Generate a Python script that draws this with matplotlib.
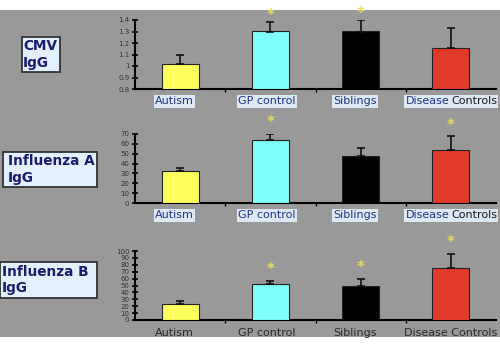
import matplotlib
matplotlib.use("Agg")
import matplotlib.pyplot as plt
from matplotlib.patches import Rectangle

categories = ["Autism", "GP control", "Siblings", "Disease Controls"]
bar_colors = ["#ffff5e", "#80ffff", "#000000", "#e23a2a"]

panel_titles = ["CMV\nIgG", "Influenza A\nIgG", "Influenza B\nIgG"]

cmv_means = [1.02, 1.30, 1.30, 1.155]
cmv_errs = [0.075, 0.08, 0.10, 0.175]
cmv_stars = [False, True, True, False]
cmv_ticks = [0.8, 0.9, 1.0, 1.1, 1.2, 1.3, 1.4]
cmv_ticklabels = ["0.8", "0.9", "1", "1.1", "1.2", "1.3", "1.4"]

fluA_means = [32, 63.5, 47.5, 53.5]
fluA_errs = [4, 7, 8.5, 14]
fluA_stars = [False, True, False, True]
fluA_ticks = [0, 10, 20, 30, 40, 50, 60, 70]

fluB_means = [22.5, 52.5, 49, 76]
fluB_errs = [4.5, 4.3, 11, 20]
fluB_stars = [False, True, True, True]
fluB_ticks = [0, 10, 20, 30, 40, 50, 60, 70, 80, 90, 100]

W, H = 500, 350
fig = plt.figure(figsize=(5, 3.5), dpi=100)
fig.patch.set_facecolor("white")

def fx(px):
    return px / W

def fy(py):
    return 1 - py / H

# grey slide background
fig.patches.append(Rectangle((0, fy(337)), 1, fy(10) - fy(337), transform=fig.transFigure,
                             facecolor="#999999", edgecolor="none", zorder=-10))

# the slide's category labels sit a few pixels left of the bars
label_shift = [-0.06, -0.04, -0.06, 0.0]

panels = [
    dict(means=cmv_means, errs=cmv_errs, stars=cmv_stars, ticks=cmv_ticks,
         ticklabels=cmv_ticklabels, ylim=(0.8, 1.4), top=20, bottom=89,
         star_off=5, box=(22, 37, 60, 72), text_x=23, blue_labels=True),
    dict(means=fluA_means, errs=fluA_errs, stars=fluA_stars, ticks=fluA_ticks,
         ticklabels=[str(t) for t in fluA_ticks], ylim=(0, 70), top=134, bottom=203,
         star_off=8, box=(3, 152, 97, 187), text_x=8, blue_labels=True),
    dict(means=fluB_means, errs=fluB_errs, stars=fluB_stars, ticks=fluB_ticks,
         ticklabels=[str(t) for t in fluB_ticks], ylim=(0, 100), top=251, bottom=320,
         star_off=8, box=(0, 262, 97, 298), text_x=2, blue_labels=False),
]

for p, title in zip(panels, panel_titles):
    ax = fig.add_axes([fx(135), fy(p["bottom"]), fx(496) - fx(135), fy(p["top"]) - fy(p["bottom"])])
    ax.set_facecolor("none")
    x = range(len(categories))
    bottom = p["ylim"][0]
    heights = [m - bottom for m in p["means"]]
    ax.bar(x, heights, bottom=bottom, width=0.41, color=bar_colors,
           edgecolor="#222222", linewidth=0.8, zorder=3)
    ax.errorbar(x, p["means"], yerr=[[0] * 4, p["errs"]], fmt="none",
                ecolor="#111111", elinewidth=1.2, capsize=3, capthick=1.2, zorder=4)
    for i, (m, e, s) in enumerate(zip(p["means"], p["errs"], p["stars"])):
        if s:
            ax.annotate("*", (i, m + e), xytext=(0, p["star_off"]), textcoords="offset points",
                        ha="center", va="center", color="#e6dc5a", fontsize=11,
                        fontweight="bold", annotation_clip=False)
    ax.set_xlim(-0.5, 3.5)
    ax.set_ylim(*p["ylim"])
    ax.spines["top"].set_visible(False)
    ax.spines["right"].set_visible(False)
    ax.spines["left"].set_linewidth(1.5)
    ax.spines["bottom"].set_linewidth(1.5)
    ax.set_yticks(p["ticks"])
    ax.set_yticklabels(p["ticklabels"])
    ax.tick_params(axis="y", direction="inout", length=4, width=1.2, labelsize=5,
                   labelcolor="#333333", pad=2)
    ax.set_xticks([])
    ax.set_xticks([0.5, 1.5, 2.5], minor=True)
    ax.tick_params(axis="x", which="minor", direction="out", length=2, width=1)

    ylab = -12.5 / (p["bottom"] - p["top"])
    tr = ax.get_xaxis_transform()
    if p["blue_labels"]:
        lab_box = dict(boxstyle="square,pad=0.12", fc="#dde8f5", ec="none")
        for i, c in enumerate(categories[:3]):
            ax.text(i + label_shift[i], ylab, c, transform=tr, ha="center", va="center",
                    fontsize=8, color="#24338c", bbox=lab_box)
        ax.text(2.985, ylab, "Disease", transform=tr, ha="right", va="center", fontsize=8,
                color="#24338c", bbox=lab_box)
        ax.text(3.0, ylab, "Controls", transform=tr, ha="left", va="center", fontsize=8,
                color="#1a1a1a", bbox=lab_box)
    else:
        for i, c in enumerate(categories):
            ax.text(i + label_shift[i], ylab, c, transform=tr, ha="center", va="center",
                    fontsize=8, color="#2a2a2a")

    x0, y0, x1, y1 = p["box"]
    fig.patches.append(Rectangle((fx(x0), fy(y1)), fx(x1) - fx(x0), fy(y0) - fy(y1),
                                 transform=fig.transFigure, facecolor="#e2effc",
                                 edgecolor="#333333", linewidth=1.3, zorder=1))
    fig.text(fx(p["text_x"]), fy((y0 + y1) / 2), title, ha="left", va="center",
             fontsize=9.8, fontweight="bold", color="#1c1c6e", linespacing=1.25, zorder=2)

fig.savefig("out.png", dpi=100, facecolor=fig.get_facecolor())
